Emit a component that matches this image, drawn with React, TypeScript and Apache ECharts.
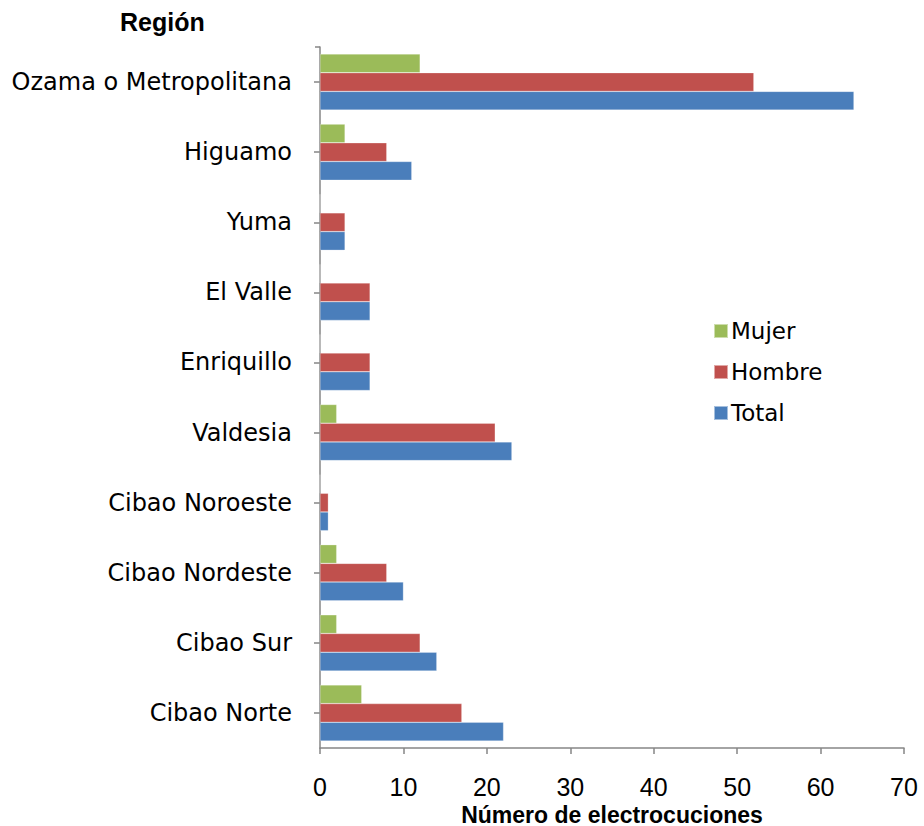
import React, { useEffect, useRef } from "react";
import * as echarts from "echarts";

const regions = [
  "Ozama o Metropolitana",
  "Higuamo",
  "Yuma",
  "El Valle",
  "Enriquillo",
  "Valdesia",
  "Cibao Noroeste",
  "Cibao Nordeste",
  "Cibao Sur",
  "Cibao Norte",
];
const mujer = [12, 3, 0, 0, 0, 2, 0, 2, 2, 5];
const hombre = [52, 8, 3, 6, 6, 21, 1, 8, 12, 17];
const total = [64, 11, 3, 6, 6, 23, 1, 10, 14, 22];
const seriesNames = ["Mujer", "Hombre", "Total"];
const seriesColors = ["#9BBB59", "#C0504D", "#4A7EBB"];

export default function App() {
  const ref = useRef<HTMLDivElement>(null);
  useEffect(() => {
    const chart = echarts.init(ref.current!, null, { renderer: "svg" });
    const data = [mujer, hombre, total];
    chart.setOption({
      animation: false,
      backgroundColor: "#ffffff",
      grid: { left: 320, right: 20, top: 47, bottom: 78, containLabel: false, outerBoundsMode: "none" },
      legend: {
        orient: "vertical",
        left: 708,
        top: 314,
        itemWidth: 14,
        itemHeight: 14,
        itemGap: 17,
        icon: "rect",
        textStyle: { fontFamily: "DejaVu Sans", fontSize: 23, lineHeight: 24, color: "#000", padding: [0, 0, 0, -2] },
        data: seriesNames,
      },
      graphic: [
        {
          type: "text",
          left: 120,
          top: 9,
          style: { text: "Región", font: "bold 25px 'Liberation Sans'", fill: "#000" },
        },
        {
          type: "line",
          shape: { x1: 315, y1: 47, x2: 320, y2: 47 },
          style: { stroke: "#868686", lineWidth: 1.5 },
        },
      ],
      xAxis: {
        type: "value",
        min: 0,
        max: 70,
        interval: 10,
        splitLine: { show: false },
        axisLine: { show: true, lineStyle: { color: "#868686", width: 1.5 } },
        axisTick: { show: true, length: 6, lineStyle: { color: "#868686", width: 1.5 } },
        axisLabel: { fontFamily: "Liberation Sans", fontSize: 25, lineHeight: 25, color: "#000", margin: 26 },
        name: "Número de electrocuciones",
        nameLocation: "middle",
        nameGap: 55,
        nameMoveOverlap: false,
        nameTextStyle: {
          fontFamily: "Liberation Sans",
          fontWeight: "bold",
          fontSize: 23,
          lineHeight: 23,
          color: "#000",
        },
      },
      yAxis: {
        type: "category",
        data: regions,
        inverse: true,
        axisLine: { show: true, lineStyle: { color: "#868686", width: 1.5 } },
        axisTick: { show: true, alignWithLabel: true, length: 6, lineStyle: { color: "#868686", width: 1.5 } },
        axisLabel: { fontFamily: "DejaVu Sans", fontSize: 24, color: "#000", margin: 28 },
      },
      series: seriesNames.map((n, i) => ({
        name: n,
        type: "bar",
        data: data[i],
        barGap: "0%",
        barCategoryGap: "20%",
        itemStyle: { color: seriesColors[i], borderColor: "rgba(255,255,255,0.5)", borderWidth: 0.5 },
      })),
    });
    return () => chart.dispose();
  }, []);
  return (
    <div
      ref={ref}
      style={{ position: "absolute", left: 0, top: 0, width: 924, height: 826 }}
    />
  );
}
